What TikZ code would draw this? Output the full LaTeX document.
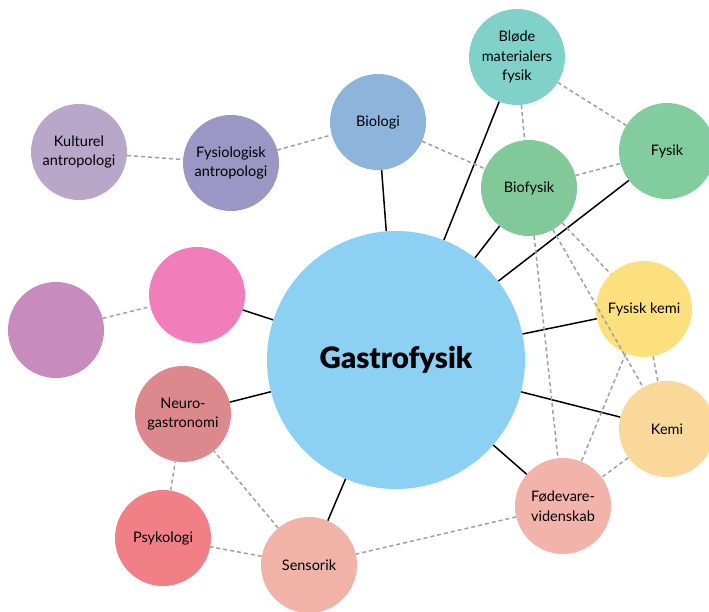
\documentclass[tikz,border=0pt]{standalone}
\usepackage{fontspec}
\setmainfont{Lato}[BoldFont={Lato Black}]
\usetikzlibrary{positioning}

\definecolor{cGastro}{HTML}{8CD0F4}
\definecolor{cKultur}{HTML}{B9A7CA}
\definecolor{cFysAntro}{HTML}{9B96C4}
\definecolor{cBiologi}{HTML}{8DB5DB}
\definecolor{cBlode}{HTML}{7FD1C9}
\definecolor{cFysik}{HTML}{82CC9E}
\definecolor{cBiofysik}{HTML}{82C99A}
\definecolor{cFysKemi}{HTML}{FDE07E}
\definecolor{cKemi}{HTML}{FAD89A}
\definecolor{cFodevare}{HTML}{F1B3AA}
\definecolor{cSensorik}{HTML}{F1B3A8}
\definecolor{cPsyk}{HTML}{F07F86}
\definecolor{cNeuro}{HTML}{DD888D}
\definecolor{cPink}{HTML}{F17EBB}
\definecolor{cPurple}{HTML}{C78CBD}
\definecolor{cDash}{HTML}{A0A0A0}

\tikzset{
	disc/.style={circle, minimum size=96pt, inner sep=0pt, align=center,
		font=\fontsize{14.5}{19.5}\selectfont},
	hub/.style={circle, minimum size=258pt, inner sep=0pt,
		font=\fontsize{29.5}{32}\selectfont\bfseries},
	mainlink/.style={draw=black, line width=1.5pt},
	sidelink/.style={draw=cDash, line width=1.5pt, dash pattern=on 4pt off 3pt}
}

\begin{document}
\begin{tikzpicture}[x=1pt, y=-1pt]
		
		\useasboundingbox (0,0) rectangle (709,611);
		
		%Center
		\node[hub, fill=cGastro] (gastro) at (396,360) {Gastrofysik};
		
		%Top row
		\node[disc, fill=cKultur] (kultur) at (79,152) {Kulturel\\antropologi};
		\node[disc, fill=cFysAntro] (fysantro) at (231,163) {Fysiologisk\\antropologi};
		\node[disc, fill=cBiologi] (biologi) at (378,122) {Biologi};
		\node[disc, fill=cBlode] (blode) at (517,57) {Bløde\\materialers\\fysik};
		\node[disc, fill=cFysik] (fysik) at (667,151) {Fysik};
		\node[disc, fill=cBiofysik] (biofysik) at (529,188) {Biofysik};
		
		%Right side
		\node[disc, fill=cFysKemi] (fyskemi) at (644,309) {Fysisk kemi};
		\node[disc, fill=cKemi] (kemi) at (667,429) {Kemi};
		\node[disc, fill=cFodevare] (fodevare) at (563,506) {Fødevare-\\videnskab};
		
		%Bottom and left side
		\node[disc, fill=cSensorik] (sensorik) at (309,565) {Sensorik};
		\node[disc, fill=cPsyk] (psyk) at (163,538) {Psykologi};
		\node[disc, fill=cNeuro] (neuro) at (183,414) {Neuro-\\gastronomi};
		\node[disc, fill=cPink] (pinkdisc) at (197,295) {};
		\node[disc, fill=cPurple] (purpledisc) at (56,330) {};
		
		%Links to the center
		\foreach \n in {biologi, blode, biofysik, fysik, fyskemi, kemi, fodevare, sensorik, neuro, pinkdisc}
		\draw[mainlink] (gastro) -- (\n);
		
		%Links between fields
		\draw[sidelink] (kultur) -- (fysantro);
		\draw[sidelink] (fysantro) -- (biologi);
		\draw[sidelink] (biologi) -- (biofysik);
		\draw[sidelink] (blode) -- (biofysik);
		\draw[sidelink] (blode) -- (fysik);
		\draw[sidelink] (biofysik) -- (fysik);
		\draw[sidelink] (biofysik) -- (fodevare);
		\draw[sidelink] (biofysik) -- (kemi);
		\draw[sidelink] (biofysik) -- (fyskemi);
		\draw[sidelink] (fyskemi) -- (kemi);
		\draw[sidelink] (fyskemi) -- (fodevare);
		\draw[sidelink] (kemi) -- (fodevare);
		\draw[sidelink] (fodevare) -- (sensorik);
		\draw[sidelink] (sensorik) -- (neuro);
		\draw[sidelink] (sensorik) -- (psyk);
		\draw[sidelink] (psyk) -- (neuro);
		\draw[sidelink] (purpledisc) -- (pinkdisc);
		
\end{tikzpicture}
\end{document}
